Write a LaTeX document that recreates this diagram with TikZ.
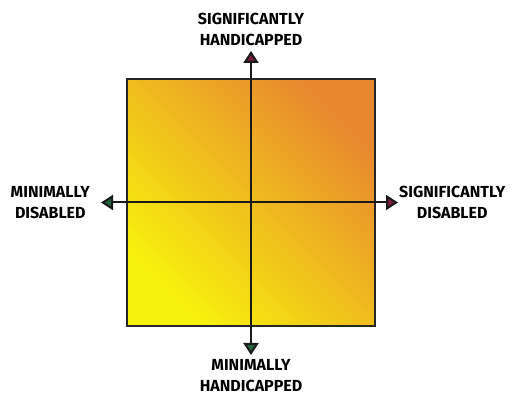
\documentclass[tikz,border=0pt]{standalone}
\usepackage{fontspec}
\setsansfont{Fira Sans}
\usetikzlibrary{arrows.meta,positioning}

\definecolor{hotyellow}{HTML}{F7F20C}
\definecolor{hotorange}{HTML}{E8882E}
\definecolor{tipred}{HTML}{7A1E3A}
\definecolor{tipgreen}{HTML}{24643C}

\begin{document}
\begin{tikzpicture}[
    x=1pt, y=-1pt,
    quadrant/.style={
        rectangle,
        draw=black!85,
        line width=1.8pt,
        minimum width=248pt,
        minimum height=247pt,
        inner sep=0pt,
        shading=axis,
        bottom color=hotyellow,
        top color=hotorange,
        shading angle=-45
    },
    axisline/.style={line width=2pt, draw=black!90},
    uptip/.style={-{Triangle[length=12pt,width=15pt,fill=tipred]}},
    downtip/.style={-{Triangle[length=12pt,width=15pt,fill=tipgreen]}},
    axislabel/.style={
        align=center,
        inner sep=0pt,
        font=\sffamily\bfseries\fontsize{16}{21}\selectfont
    }
]
\useasboundingbox (0,0) rectangle (512,398);

\node[quadrant] (quad) at (251,202.5) {};

\coordinate (top) at (251,51);
\coordinate (bottom) at (251,355);
\coordinate (left) at (101,202.5);
\coordinate (right) at (398,202.5);

\draw[axisline, uptip] (quad.center) -- (top);
\draw[axisline, downtip] (quad.center) -- (bottom);
\draw[axisline, downtip] (quad.center) -- (left);
\draw[axisline, uptip] (quad.center) -- (right);

\node[axislabel, above=5pt of top] (sighand) {SIGNIFICANTLY\\HANDICAPPED};
\node[axislabel, below=4pt of bottom] (minhand) {MINIMALLY\\HANDICAPPED};
\node[axislabel, left=11pt of left] (mindis) {MINIMALLY\\DISABLED};
\node[axislabel, right=1pt of right] (sigdis) {SIGNIFICANTLY\\DISABLED};

\end{tikzpicture}
\end{document}
